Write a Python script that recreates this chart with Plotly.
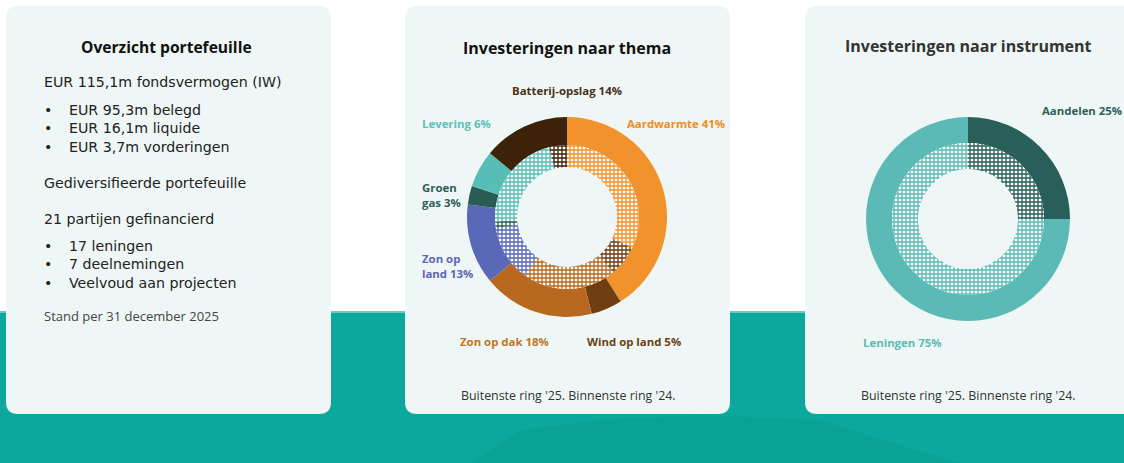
import plotly.graph_objects as go

W, H = 1124, 463

# ---------------- data ----------------
thema_labels = ["Aardwarmte", "Wind op land", "Zon op dak", "Zon op land",
                "Groen gas", "Levering", "Batterij-opslag"]
thema_2025 = [41, 5, 18, 13, 3, 6, 14]          # outer ring ('25)
thema_2024 = [32, 7, 21, 12.5, 1.5, 22, 4]      # inner ring ('24), estimated
thema_colors = ["#f2922c", "#6e3d12", "#b8691f", "#5a68b8",
                "#2a5c56", "#57bdb6", "#3c2208"]

instr_labels = ["Aandelen", "Leningen"]
instr_2025 = [25, 75]
instr_2024 = [25, 75]
instr_colors = ["#285f5a", "#5bbab5"]

overview_lines = ["EUR 115,1m fondsvermogen (IW)"]
overview_bullets1 = ["EUR 95,3m belegd", "EUR 16,1m liquide", "EUR 3,7m vorderingen"]
overview_mid = ["Gediversifieerde portefeuille", "21 partijen gefinancierd"]
overview_bullets2 = ["17 leningen", "7 deelnemingen", "Veelvoud aan projecten"]

FONT = "Open Sans"
BODYFONT = "DejaVu Sans"


def px(x):
    return x / W


def py(y):
    return 1 - y / H


def dom(cx, cy, r):
    return dict(x=[px(cx - r), px(cx + r)], y=[py(cy + r), py(cy - r)])


def rrect(x0, y0, x1, y1, r):
    X0, X1 = px(x0), px(x1)
    Y0, Y1 = py(y0), py(y1)
    rx, ry = r / W, r / H
    return (f"M {X0+rx},{Y0} L {X1-rx},{Y0} Q {X1},{Y0} {X1},{Y0-ry} "
            f"L {X1},{Y1+ry} Q {X1},{Y1} {X1-rx},{Y1} L {X0+rx},{Y1} "
            f"Q {X0},{Y1} {X0},{Y1+ry} L {X0},{Y0-ry} Q {X0},{Y0} {X0+rx},{Y0} Z")


fig = go.Figure()

PAT = dict(shape="+", bgcolor="white", size=4, solidity=0.55, fillmode="replace")

# ---- thema donut ----
cx1, cy1 = 567, 217
fig.add_trace(go.Pie(
    labels=thema_labels, values=thema_2025, sort=False, direction="clockwise",
    rotation=0, hole=72 / 100, domain=dom(cx1, cy1, 100),
    marker=dict(colors=thema_colors, line=dict(width=0)),
    textinfo="none", hoverinfo="label+percent", showlegend=False))
fig.add_trace(go.Pie(
    labels=thema_labels, values=thema_2024, sort=False, direction="clockwise",
    rotation=0, hole=50 / 72, domain=dom(cx1, cy1, 72),
    marker=dict(colors=["white"] * 7, line=dict(width=0),
                pattern=dict(fgcolor=thema_colors, **PAT)),
    textinfo="none", hoverinfo="label+percent", showlegend=False))

# ---- instrument donut ----
cx2, cy2 = 968, 219
fig.add_trace(go.Pie(
    labels=instr_labels, values=instr_2025, sort=False, direction="clockwise",
    rotation=0, hole=76 / 102, domain=dom(cx2, cy2, 102),
    marker=dict(colors=instr_colors, line=dict(width=0)),
    textinfo="none", hoverinfo="label+percent", showlegend=False))
fig.add_trace(go.Pie(
    labels=instr_labels, values=instr_2024, sort=False, direction="clockwise",
    rotation=0, hole=50 / 76, domain=dom(cx2, cy2, 76),
    marker=dict(colors=["white"] * 2, line=dict(width=0),
                pattern=dict(fgcolor=instr_colors, **PAT)),
    textinfo="none", hoverinfo="label+percent", showlegend=False))

# ---- background shapes ----
shapes = []
shapes.append(dict(type="rect", xref="paper", yref="paper", x0=0, x1=1,
                   y0=0, y1=py(311), fillcolor="#0ca89d", line_width=0, layer="below"))
shapes.append(dict(type="rect", xref="paper", yref="paper", x0=0, x1=1,
                   y0=py(313), y1=py(311), fillcolor="#6cc9c2", line_width=0, layer="below"))
# subtle darker blob in the teal band
shapes.append(dict(type="path", xref="paper", yref="paper", layer="below", line_width=0,
                   fillcolor="#0ba296",
                   path=(f"M {px(470)},{py(463)} L {px(520)},{py(430)} L {px(600)},{py(420)} "
                         f"L {px(700)},{py(415)} L {px(820)},{py(420)} L {px(900)},{py(445)} "
                         f"L {px(960)},{py(463)} Z")))
for (x0, x1) in [(6, 331), (405, 730), (805, 1140)]:
    shapes.append(dict(type="path", xref="paper", yref="paper", layer="below",
                       path=rrect(x0, 6, x1, 414, 12), fillcolor="#eff7f6", line_width=0))

# ---- annotations ----
ann = []


def text(x, y, s, size, color, bold=False, anchor="left", family=FONT):
    ann.append(dict(x=px(x), y=py(y), xref="paper", yref="paper", text=f"<b>{s}</b>" if bold else s,
                    showarrow=False, xanchor=anchor, yanchor="middle", align=anchor if anchor != "center" else "center",
                    font=dict(family=family, size=size, color=color)))


BODY = 14.2
# card 1
text(166, 47, "Overzicht portefeuille", 15.6, "#111111", bold=True, anchor="center")
text(42, 82, overview_lines[0], BODY, "#222222", family=BODYFONT)
text(42, 128, "<br>".join(["•"] * len(overview_bullets1)), BODY, "#222222", family=BODYFONT)
text(67, 128, "<br>".join(overview_bullets1), BODY, "#222222", family=BODYFONT)
text(42, 183, overview_mid[0], BODY, "#222222", family=BODYFONT)
text(42, 219, overview_mid[1], BODY, "#222222", family=BODYFONT)
text(42, 264, "<br>".join(["•"] * len(overview_bullets2)), BODY, "#222222", family=BODYFONT)
text(67, 264, "<br>".join(overview_bullets2), BODY, "#222222", family=BODYFONT)
text(42, 316, "Stand per 31 december 2025", 13, "#444444")

LBL = 11.4
# card 2
text(567, 48, "Investeringen naar thema", 16, "#111111", bold=True, anchor="center")
text(567, 90, f"Batterij-opslag {thema_2025[6]}%", LBL, "#4a2f17", bold=True, anchor="center")
text(420, 123, f"Levering {thema_2025[5]}%", LBL, "#5cc0b9", bold=True)
text(625, 123, f"Aardwarmte {thema_2025[0]}%", LBL, "#f08c20", bold=True)
text(420, 195, f"Groen<br>gas {thema_2025[4]}%", LBL, "#2e5d58", bold=True)
text(420, 266, f"Zon op<br>land {thema_2025[3]}%", LBL, "#5b66b5", bold=True)
text(458, 341, f"Zon op dak {thema_2025[2]}%", LBL, "#c07526", bold=True)
text(585, 341, f"Wind op land {thema_2025[1]}%", LBL, "#6b3e14", bold=True)
text(568, 395, "Buitenste ring '25. Binnenste ring '24.", 12.4, "#333333", anchor="center")

# card 3
text(968, 46, "Investeringen naar instrument", 16, "#333333", bold=True, anchor="center")
text(1040, 111, f"Aandelen {instr_2025[0]}%", LBL, "#2e5f5a", bold=True)
text(861, 342, f"Leningen {instr_2025[1]}%", LBL, "#5bbab4", bold=True)
text(968, 395, "Buitenste ring '25. Binnenste ring '24.", 12.4, "#333333", anchor="center")

fig.update_layout(width=W, height=H, margin=dict(l=0, r=0, t=0, b=0),
                  paper_bgcolor="white", plot_bgcolor="white",
                  shapes=shapes, annotations=ann, showlegend=False)

fig.write_html("out.html", config={"displayModeBar": False},
               post_script="document.body.style.margin='0';document.body.style.overflow='hidden';")
